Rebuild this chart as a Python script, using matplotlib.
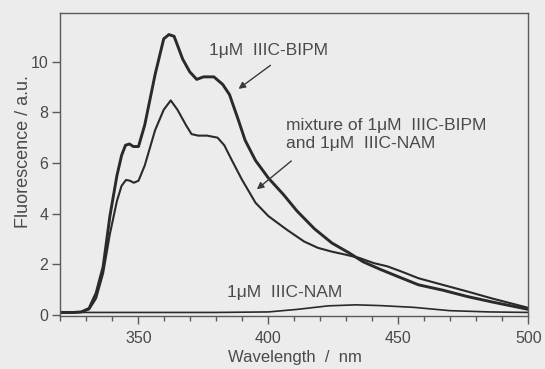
import matplotlib
matplotlib.use("Agg")
import matplotlib.pyplot as plt
from matplotlib.ticker import MultipleLocator

plt.rcParams['font.family'] = ['Liberation Sans', 'DejaVu Sans']

# Wavelength (nm) and fluorescence (a.u.)
wl_bipm = [320, 325, 328, 331, 333.7, 336.4, 339, 341.7, 343.5, 345, 346.5, 348, 350, 352.4,
           356.4, 359.7, 361.7, 363.7, 367, 369.7, 372.4, 375, 379, 382.4, 385, 388.4, 391,
           395, 400, 405.7, 411, 417.7, 424.4, 431, 436.4, 443, 449.7, 457.7, 467, 476.4,
           485.7, 500]
fl_bipm = [0.1, 0.1, 0.12, 0.26, 0.86, 1.9, 3.9, 5.5, 6.3, 6.7, 6.75, 6.65, 6.65, 7.5,
           9.5, 10.9, 11.07, 11.0, 10.1, 9.6, 9.3, 9.4, 9.4, 9.1, 8.7, 7.7, 6.9,
           6.1, 5.4, 4.76, 4.1, 3.4, 2.84, 2.45, 2.1, 1.8, 1.52, 1.19, 0.98, 0.73,
           0.52, 0.22]

wl_mix = [320, 325, 328, 331, 333.7, 336.4, 339, 341.7, 343.5, 345.2, 346.7, 348.2, 350,
          352.4, 356.4, 359.7, 362.4, 365, 368.4, 370.4, 373, 376.4, 380.4, 383, 385.7,
          389.7, 395, 400, 407, 413.7, 419, 424.4, 429.7, 435, 440.4, 445.7, 451, 457.7,
          467, 476.4, 485.7, 500]
fl_mix = [0.1, 0.1, 0.12, 0.22, 0.66, 1.65, 3.2, 4.5, 5.1, 5.33, 5.3, 5.22, 5.3,
          5.9, 7.3, 8.1, 8.47, 8.1, 7.47, 7.14, 7.08, 7.08, 7.0, 6.7, 6.15,
          5.36, 4.43, 3.9, 3.37, 2.9, 2.65, 2.5, 2.38, 2.25, 2.05, 1.92, 1.72, 1.45,
          1.19, 0.93, 0.66, 0.28]

wl_nam = [320, 350, 380, 400, 411, 423, 433.7, 443, 456, 469.7, 485, 500]
fl_nam = [0.1, 0.1, 0.1, 0.12, 0.22, 0.36, 0.4, 0.37, 0.3, 0.17, 0.12, 0.1]

bg = '#ececec'
ink = '#2a2a2a'
txt = '#4a4a4a'
axc = '#5a5a5a'

fig = plt.figure(figsize=(5.45, 3.69), dpi=100, facecolor=bg)
ax = fig.add_axes([0.111, 0.1423, 0.8587, 0.8217], facecolor=bg)

ax.plot(wl_bipm, fl_bipm, color=ink, lw=2.1, solid_joinstyle='round')
ax.plot(wl_mix, fl_mix, color=ink, lw=1.5, solid_joinstyle='round')
ax.plot(wl_nam, fl_nam, color=ink, lw=1.2, solid_joinstyle='round')

ax.set_xlim(320, 500)
ax.set_ylim(-0.06, 11.91)
ax.xaxis.set_major_locator(MultipleLocator(50))
ax.xaxis.set_minor_locator(MultipleLocator(10))
ax.yaxis.set_major_locator(MultipleLocator(2))

for s in ax.spines.values():
    s.set_color(axc)
    s.set_linewidth(1.0)

ax.tick_params(axis='both', which='major', direction='out', length=5.8, width=1.0,
               color=axc, labelcolor=txt, labelsize=11.5)
ax.tick_params(axis='x', which='major', pad=4.8)
ax.tick_params(axis='y', which='major', pad=3)
ax.tick_params(axis='x', which='minor', direction='out', length=3.6, width=1.0,
               color=axc)

ax.set_xlabel('Wavelength  /  nm', fontsize=12, color=txt, labelpad=3)
ax.set_ylabel('Fluorescence / a.u.', fontsize=13, color=txt)
ax.yaxis.set_label_coords(-0.061, 0.5425)

arrowprops = dict(arrowstyle='-|>', color='#3a3a3a', lw=1.0, mutation_scale=10)

ax.text(400, 10.46, '1\u03bcM  IIIC-BIPM', fontsize=12.5, color=txt, ha='center', va='center')
ax.annotate('', xy=(387.6, 8.86), xytext=(401.6, 9.92), arrowprops=arrowprops)

ax.text(406.8, 7.14, 'mixture of 1\u03bcM  IIIC-BIPM\nand 1\u03bcM  IIIC-NAM', fontsize=12.5,
        color=txt, ha='left', va='center', linespacing=1.25)
ax.annotate('', xy=(394.7, 4.89), xytext=(409.6, 6.15), arrowprops=arrowprops)

ax.text(406.2, 0.87, '1\u03bcM  IIIC-NAM', fontsize=12.5, color=txt, ha='center', va='center')

fig.savefig('out.png', dpi=100, facecolor=bg)
